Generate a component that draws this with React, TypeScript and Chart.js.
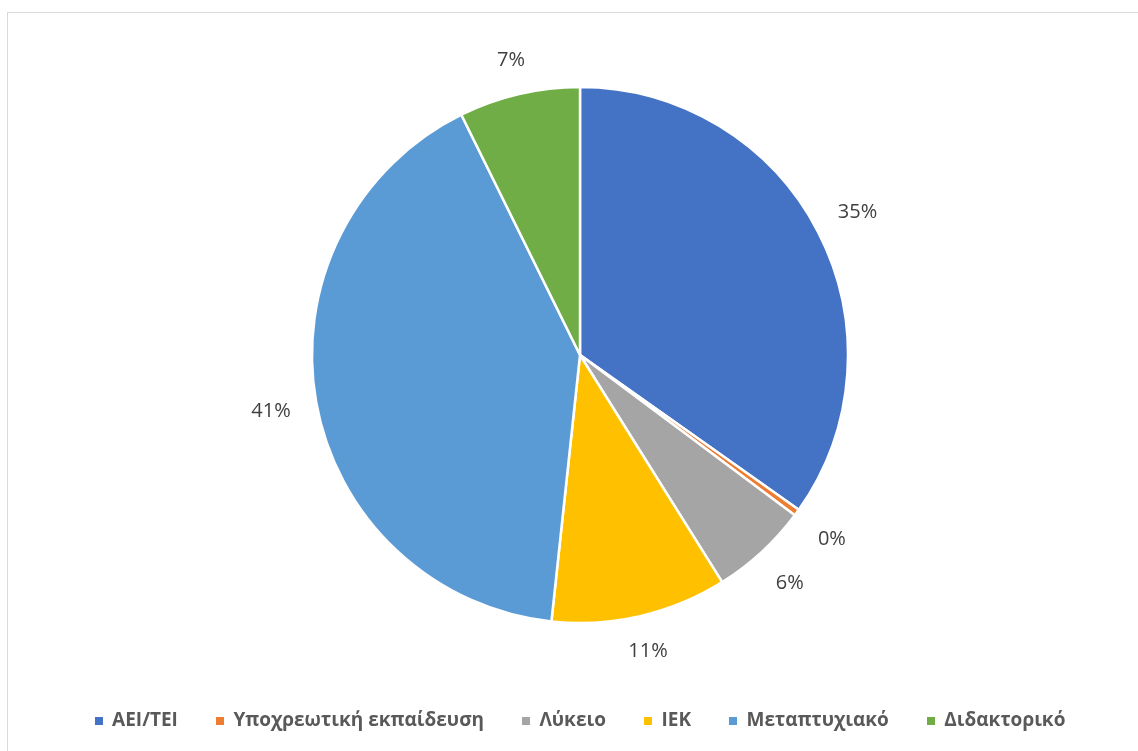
import React, { useEffect, useRef } from "react";
import { Chart, registerables } from "chart.js";

Chart.register(...registerables);

const categories = ["ΑΕΙ/ΤΕΙ", "Υποχρεωτική εκπαίδευση", "Λύκειο", "ΙΕΚ", "Μεταπτυχιακό", "Διδακτορικό"];
const values = [34.8, 0.4, 5.9, 10.6, 41.0, 7.3];
const colors = ["#4472C4", "#ED7D31", "#A5A5A5", "#FFC000", "#5B9BD5", "#70AD47"];

function makeSwatch(color: string) {
  const c = document.createElement("canvas");
  c.width = 8;
  c.height = 8;
  const g = c.getContext("2d")!;
  g.fillStyle = color;
  g.fillRect(0, 0, 8, 8);
  return c;
}

const borderPlugin = {
  id: "frameBorder",
  beforeDraw(chart: any) {
    const ctx = chart.ctx;
    ctx.save();
    ctx.fillStyle = "#ffffff";
    ctx.fillRect(0, 0, chart.width, chart.height);
    ctx.strokeStyle = "#D9D9D9";
    ctx.lineWidth = 1;
    ctx.strokeRect(7.5, 12.5, chart.width + 50, chart.height + 50);
    ctx.restore();
  },
};

const percentLabels = {
  id: "percentLabels",
  afterDatasetsDraw(chart: any) {
    const ctx = chart.ctx;
    const meta = chart.getDatasetMeta(0);
    const data = chart.data.datasets[0].data as number[];
    const total = data.reduce((a, b) => a + b, 0);
    ctx.save();
    ctx.font = "20px 'Open Sans'";
    ctx.fillStyle = "#404040";
    ctx.textAlign = "center";
    ctx.textBaseline = "middle";
    meta.data.forEach((arc: any, i: number) => {
      const { x, y, startAngle, endAngle, outerRadius } = arc.getProps(
        ["x", "y", "startAngle", "endAngle", "outerRadius"],
        true
      );
      const mid = (startAngle + endAngle) / 2;
      const d = outerRadius + 32 + 14 * Math.abs(Math.cos(mid));
      const tx = x + Math.cos(mid) * d;
      const ty = y + Math.sin(mid) * d + 1;
      ctx.fillText(Math.round((data[i] / total) * 100) + "%", tx, ty);
    });
    ctx.restore();
  },
};

export default function App() {
  const ref = useRef<HTMLCanvasElement | null>(null);
  useEffect(() => {
    if (!ref.current) return;
    const swatches = colors.map(makeSwatch);
    const chart = new Chart(ref.current, {
      type: "pie",
      data: {
        labels: categories,
        datasets: [
          {
            data: values,
            backgroundColor: colors,
            borderColor: "#ffffff",
            borderWidth: 2.5,
            radius: 268,
          },
        ],
      },
      options: {
        responsive: false,
        animation: false,
        layout: { padding: { top: 37, bottom: 11, left: 0, right: 0 } },
        plugins: {
          tooltip: { enabled: false },
          legend: {
            position: "bottom",
            labels: {
              font: { family: "'Open Sans'", size: 19, weight: "bold" },
              color: "#595959",
              usePointStyle: true,
              pointStyleWidth: 8,
              padding: 38,
              generateLabels(ch: any) {
                const items = (Chart as any).overrides.pie.plugins.legend.labels.generateLabels(ch);
                return items.map((it: any, i: number) => ({ ...it, pointStyle: swatches[i] }));
              },
            },
          },
        },
      },
      plugins: [borderPlugin, percentLabels],
    });
    return () => chart.destroy();
  }, []);
  return (
    <div style={{ position: "fixed", left: 0, top: 0, width: 1138, height: 751, overflow: "hidden", background: "#fff" }}>
      <canvas ref={ref} width={1160} height={751} style={{ display: "block", width: 1160, height: 751 }} />
    </div>
  );
}
